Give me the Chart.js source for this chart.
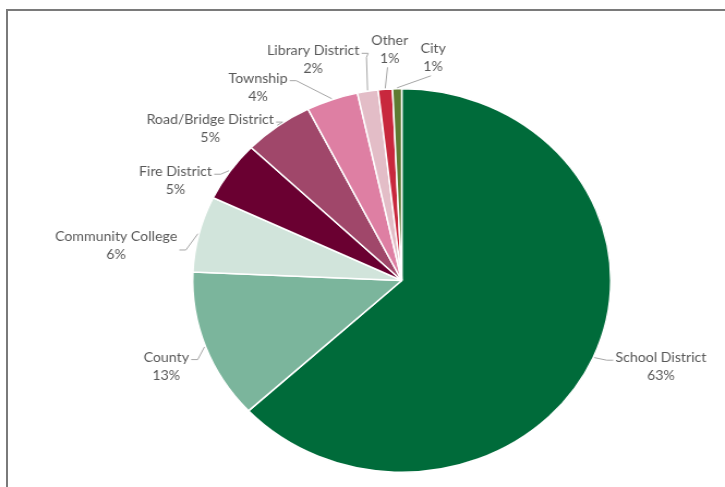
<!doctype html>
<html lang="en">
  <head>
    <meta charset="UTF-8" />
    <title>Share by District Type</title>
    <script src="https://cdn.jsdelivr.net/npm/chart.js"></script>
    <style>
      body {
        margin: 0;
        width: 725px;
        height: 487px;
        overflow: hidden;
        background: #fff;
        position: relative;
      }
      .frame {
        position: absolute;
        left: 6px;
        top: 9px;
        right: -10px;
        bottom: -10px;
        border-top: 2px solid #7a7a7a;
        border-left: 2px solid #7a7a7a;
      }
      /* the reference is stretched a little horizontally */
      .chart-container {
        position: absolute;
        left: 0;
        top: 0;
        width: 665px;
        height: 487px;
        transform: scaleX(1.0902);
        transform-origin: 0 0;
      }
    </style>
  </head>
  <body>
    <div class="frame"></div>
    <div class="chart-container">
      <canvas id="pieChart"></canvas>
    </div>

    <script>
      const categories = [
        'School District',
        'County',
        'Community College',
        'Fire District',
        'Road/Bridge District',
        'Township',
        'Library District',
        'Other',
        'City',
      ];
      const shares = [63.1, 12.6, 6.4, 5.1, 5.4, 4.0, 1.6, 1.1, 0.7];
      const sliceColors = [
        '#006b3a',
        '#7bb59c',
        '#d1e4db',
        '#6a0031',
        '#a0476a',
        '#de7fa3',
        '#e3bdc7',
        '#c8283d',
        '#5e7b32',
      ];

      // label centre offset from the slice's outer midpoint, and where the leader attaches
      const labelLayout = [
        { dx: 62, dy: 10, side: 'l' },
        { dx: -36, dy: 20, side: 'r' },
        { dx: -76, dy: 12, side: 'r', lineDy: 11 },
        { dx: -50, dy: 10, side: 'r' },
        { dx: -62, dy: 3, side: 'r' },
        { dx: -68, dy: -12, side: 'r' },
        { dx: -50, dy: -31, side: 'r', drop: true },
        { dx: 4, dy: -40, side: 'b' },
        { dx: 33, dy: -31, side: 'b' },
      ];

      const leaderLabels = {
        id: 'leaderLabels',
        afterDatasetsDraw(chart) {
          const ctx = chart.ctx;
          const arcs = chart.getDatasetMeta(0).data;
          ctx.save();
          ctx.font = '13px Lato';
          ctx.textAlign = 'center';
          ctx.textBaseline = 'middle';
          ctx.strokeStyle = '#a6a6a6';
          ctx.lineWidth = 1;
          arcs.forEach((arc, i) => {
            const mid = (arc.startAngle + arc.endAngle) / 2;
            const r = arc.outerRadius;
            const ex = arc.x + Math.cos(mid) * r;
            const ey = arc.y + Math.sin(mid) * r;
            const lay = labelLayout[i];
            const cx = ex + lay.dx;
            const cy = ey + lay.dy;
            const nameY = cy - 9;
            const pctY = cy + 9;

            ctx.fillStyle = '#595959';
            ctx.fillText(categories[i], cx, nameY);
            ctx.fillText(Math.round(shares[i]) + '%', cx, pctY);

            const w = ctx.measureText(categories[i]).width;
            const sx = arc.x + Math.cos(mid) * (r + 1);
            const sy = arc.y + Math.sin(mid) * (r + 1);
            ctx.beginPath();
            if (lay.side === 'b') {
              ctx.moveTo(cx - 2, pctY + 9);
              ctx.lineTo(sx, sy);
            } else {
              const dir = lay.side === 'r' ? 1 : -1;
              const ay = nameY + 2 + (lay.lineDy || 0);
              const ax = cx + dir * (w / 2 + 2);
              const bx = ax + dir * 6;
              ctx.moveTo(ax, ay);
              ctx.lineTo(bx, ay);
              if (lay.drop) {
                ctx.lineTo(sx - 1, ay + 4);
              }
              ctx.lineTo(sx, sy);
            }
            ctx.stroke();
          });
          ctx.restore();
        },
      };

      new Chart(document.getElementById('pieChart'), {
        type: 'pie',
        data: {
          labels: categories,
          datasets: [
            {
              data: shares,
              backgroundColor: sliceColors,
              borderColor: '#ffffff',
              borderWidth: 1.5,
            },
          ],
        },
        options: {
          responsive: true,
          maintainAspectRatio: false,
          animation: false,
          layout: {
            padding: { top: 88, bottom: 14, left: 176, right: 104 },
          },
          plugins: {
            legend: { display: false },
            tooltip: { enabled: false },
          },
        },
        plugins: [leaderLabels],
      });
    </script>
  </body>
</html>
